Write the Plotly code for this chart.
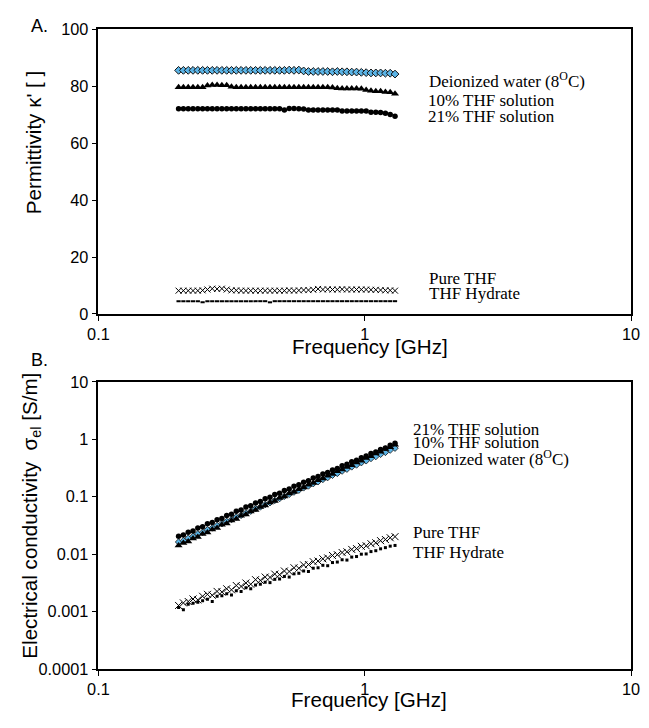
import plotly.graph_objects as go

# ---------------- data ----------------
freq_ghz = [0.2000, 0.2085, 0.2174, 0.2266, 0.2362, 0.2462, 0.2567, 0.2676, 0.2790, 0.2908,
            0.3032, 0.3160, 0.3294, 0.3434, 0.3580, 0.3732, 0.3891, 0.4056, 0.4228, 0.4408,
            0.4595, 0.4790, 0.4993, 0.5205, 0.5426, 0.5657, 0.5897, 0.6147, 0.6408, 0.6680,
            0.6964, 0.7260, 0.7568, 0.7890, 0.8225, 0.8574, 0.8938, 0.9317, 0.9713, 1.0125,
            1.0555, 1.1004, 1.1471, 1.1958, 1.2466, 1.2995]

# Panel A: permittivity
perm_water = [85.6, 85.6, 85.6, 85.6, 85.6, 85.6, 85.6, 85.6, 85.6, 85.6,
              85.6, 85.6, 85.6, 85.6, 85.6, 85.6, 85.6, 85.6, 85.6, 85.6,
              85.6, 85.6, 85.6, 85.7, 85.6, 85.7, 85.4, 85.2, 85.2, 85.2,
              85.2, 85.2, 85.1, 85.2, 85.1, 85.1, 85.0, 85.0, 84.9, 84.8,
              84.7, 84.7, 84.7, 84.6, 84.6, 84.3]
perm_thf10 = [79.7, 79.7, 79.7, 79.7, 79.7, 79.7, 80.3, 80.5, 80.5, 80.4,
              80.4, 79.8, 79.7, 79.7, 79.7, 79.7, 79.7, 79.7, 79.7, 79.7,
              79.7, 79.7, 79.7, 79.7, 79.7, 79.7, 79.7, 79.7, 79.7, 79.7,
              79.7, 79.7, 79.6, 79.3, 79.2, 79.2, 79.2, 79.2, 79.1, 78.7,
              78.4, 78.3, 78.3, 78.0, 77.9, 77.4]
perm_thf21 = [72.1, 72.1, 72.1, 72.1, 72.1, 72.1, 72.1, 72.1, 72.1, 72.1,
              72.1, 72.1, 72.1, 72.1, 72.1, 72.1, 72.1, 72.1, 72.1, 72.1,
              72.1, 72.1, 71.7, 72.2, 72.2, 72.1, 72.0, 71.7, 71.7, 71.7,
              71.7, 71.7, 71.7, 71.7, 71.3, 71.3, 71.3, 71.3, 71.3, 71.3,
              70.9, 70.9, 70.8, 70.5, 70.1, 69.5]
perm_pure = [8.2, 8.2, 8.2, 8.2, 8.2, 8.3, 8.6, 8.9, 8.8, 8.9,
             8.6, 8.3, 8.3, 8.2, 8.2, 8.2, 8.2, 8.2, 8.2, 8.2,
             8.2, 8.2, 8.2, 8.3, 8.2, 8.3, 8.4, 8.4, 8.5, 8.8,
             8.6, 8.7, 8.6, 8.6, 8.7, 8.6, 8.6, 8.6, 8.6, 8.6,
             8.5, 8.5, 8.4, 8.3, 8.3, 8.2]
perm_hydrate = [4.5, 4.5, 4.5, 4.5, 4.5, 4.1, 4.5, 4.5, 4.5, 4.5,
                4.5, 4.5, 4.5, 4.5, 4.5, 4.5, 4.5, 4.5, 4.5, 4.1,
                4.5, 4.5, 4.5, 4.5, 4.5, 4.5, 4.5, 4.5, 4.5, 4.5,
                4.5, 4.5, 4.5, 4.5, 4.5, 4.5, 4.5, 4.5, 4.5, 4.5,
                4.5, 4.5, 4.5, 4.5, 4.5, 4.5]

# Panel B: electrical conductivity [S/m]
cond_water = [0.0163, 0.0172, 0.0190, 0.0204, 0.0226, 0.0241, 0.0266, 0.0286, 0.0315, 0.0339,
              0.0373, 0.0400, 0.0442, 0.0474, 0.0522, 0.0561, 0.0617, 0.0664, 0.0730, 0.0786,
              0.0864, 0.0929, 0.1020, 0.1100, 0.1207, 0.1300, 0.1428, 0.1540, 0.1690, 0.1822,
              0.2000, 0.2155, 0.2365, 0.2550, 0.2798, 0.3017, 0.3310, 0.3570, 0.3915, 0.4222,
              0.4630, 0.4995, 0.5480, 0.5910, 0.6480, 0.7000]
cond_thf10 = [0.0141, 0.0156, 0.0166, 0.0188, 0.0199, 0.0225, 0.0238, 0.0270, 0.0286, 0.0324,
              0.0343, 0.0387, 0.0410, 0.0465, 0.0492, 0.0556, 0.0588, 0.0665, 0.0705, 0.0795,
              0.0845, 0.0950, 0.1010, 0.1135, 0.1210, 0.1355, 0.1450, 0.1620, 0.1735, 0.1935,
              0.2075, 0.2315, 0.2480, 0.2770, 0.2970, 0.3310, 0.3550, 0.3960, 0.4245, 0.4730,
              0.5075, 0.5655, 0.6070, 0.6760, 0.7250, 0.8050]
cond_thf21 = [0.0205, 0.0215, 0.0240, 0.0254, 0.0285, 0.0300, 0.0338, 0.0355, 0.0398, 0.0420,
              0.0472, 0.0497, 0.0558, 0.0590, 0.0660, 0.0698, 0.0780, 0.0826, 0.0922, 0.0975,
              0.1090, 0.1155, 0.1290, 0.1365, 0.1520, 0.1610, 0.1790, 0.1900, 0.2110, 0.2240,
              0.2490, 0.2640, 0.2930, 0.3110, 0.3450, 0.3660, 0.4060, 0.4320, 0.4790, 0.5100,
              0.5650, 0.6010, 0.6650, 0.7080, 0.7850, 0.8550]
cond_pure = [0.00128, 0.00142, 0.00150, 0.00166, 0.00160, 0.00185, 0.00200, 0.00193, 0.00225, 0.00220,
             0.00250, 0.00240, 0.00285, 0.00275, 0.00315, 0.00300, 0.00360, 0.00350, 0.00400, 0.00395,
             0.00450, 0.00440, 0.00510, 0.00500, 0.00580, 0.00570, 0.00650, 0.00660, 0.00740, 0.00760,
             0.00830, 0.00860, 0.00950, 0.00980, 0.01070, 0.01100, 0.01210, 0.01250, 0.01370, 0.01400,
             0.01520, 0.01580, 0.01720, 0.01800, 0.01930, 0.02020]
cond_hydrate = [0.00118, 0.00108, 0.00135, 0.00140, 0.00145, 0.00155, 0.00165, 0.00150, 0.00185, 0.00190,
                0.00205, 0.00195, 0.00230, 0.00225, 0.00260, 0.00250, 0.00290, 0.00300, 0.00325, 0.00320,
                0.00365, 0.00370, 0.00410, 0.00400, 0.00455, 0.00465, 0.00510, 0.00500, 0.00570, 0.00580,
                0.00640, 0.00630, 0.00715, 0.00730, 0.00800, 0.00790, 0.00890, 0.00910, 0.01000, 0.01010,
                0.01110, 0.01150, 0.01240, 0.01300, 0.01380, 0.01420]

x_tickvals = [0.1, 1, 10]
x_ticktext = ["0.1", "1", "10"]
yA_tickvals = [0, 20, 40, 60, 80, 100]
yB_tickvals = [0.0001, 0.001, 0.01, 0.1, 1, 10]
yB_ticktext = ["0.0001", "0.001", "0.01", "0.1", "1", "10"]

labels_A = ["Deionized water (8<sup>O</sup>C)", "10% THF solution", "21% THF solution",
            "Pure THF", "THF Hydrate"]
labels_B = ["21% THF solution", "10% THF solution", "Deionized water (8<sup>O</sup>C)",
            "Pure THF", "THF Hydrate"]

# ---------------- figure ----------------
# page body keeps its default 8px margin, so the figure is 16px smaller than the window
PAGE_W, PAGE_H, OFF = 649, 728, 8
W, H = PAGE_W - 2 * OFF, PAGE_H - 2 * OFF
WATER_BLUE = "#5bb4e6"


def fx(p):
    return (p - OFF) / W


def fy(p):
    return 1 - (p - OFF) / H


fig = go.Figure()

sty_water = dict(symbol="diamond", size=6, color=WATER_BLUE, line=dict(color="#111111", width=1))
sty_tri = dict(symbol="triangle-up", size=7, color="black", line=dict(width=0))
sty_circ = dict(symbol="circle", size=5.5, color="black", line=dict(width=0))
sty_x = dict(symbol="x-thin-open", size=7, color="black", line=dict(color="black", width=1))

# Panel A
fig.add_trace(go.Scatter(x=freq_ghz, y=perm_water, mode="markers", marker=sty_water, xaxis="x", yaxis="y"))
fig.add_trace(go.Scatter(x=freq_ghz, y=perm_thf10, mode="markers", marker=sty_tri, xaxis="x", yaxis="y"))
fig.add_trace(go.Scatter(x=freq_ghz, y=perm_thf21, mode="markers", marker=sty_circ, xaxis="x", yaxis="y"))
fig.add_trace(go.Scatter(x=freq_ghz, y=perm_pure, mode="markers",
                         marker=dict(symbol="x-thin-open", size=6, color="black",
                                     line=dict(color="black", width=1)), xaxis="x", yaxis="y"))
fig.add_trace(go.Scatter(x=freq_ghz, y=perm_hydrate, mode="markers",
                         marker=dict(symbol="line-ew-open", size=3, color="black",
                                     line=dict(color="black", width=2)), xaxis="x", yaxis="y"))

# Panel B
fig.add_trace(go.Scatter(x=freq_ghz, y=cond_water, mode="markers",
                         marker=dict(symbol="diamond", size=5, color=WATER_BLUE,
                                     line=dict(color="#111111", width=0.8)), xaxis="x2", yaxis="y2"))
fig.add_trace(go.Scatter(x=freq_ghz, y=cond_thf10, mode="markers", marker=sty_tri, xaxis="x2", yaxis="y2"))
fig.add_trace(go.Scatter(x=freq_ghz, y=cond_thf21, mode="markers", marker=sty_circ, xaxis="x2", yaxis="y2"))
fig.add_trace(go.Scatter(x=freq_ghz, y=cond_pure, mode="markers", marker=sty_x, xaxis="x2", yaxis="y2"))
fig.add_trace(go.Scatter(x=freq_ghz, y=cond_hydrate, mode="markers",
                         marker=dict(symbol="square", size=3, color="black", line=dict(width=0)),
                         xaxis="x2", yaxis="y2"))

tickfont = dict(family="Liberation Sans", size=16.3, color="black")
common_axis = dict(showline=True, linecolor="black", linewidth=1.6, mirror=True,
                   ticks="outside", ticklen=5, tickwidth=1.4, tickcolor="black",
                   showgrid=False, zeroline=False, tickfont=tickfont,
                   ticklabeloverflow="allow")

x_dom = [fx(90), fx(640)]
fig.update_layout(
    width=W, height=H,
    margin=dict(l=0, r=0, t=0, b=0),
    paper_bgcolor="white", plot_bgcolor="white",
    showlegend=False,
    xaxis=dict(domain=x_dom, type="log", range=[-1, 1], tickvals=x_tickvals,
               ticktext=x_ticktext, anchor="y", **common_axis),
    yaxis=dict(domain=[fy(312.7), fy(20.7)], range=[0, 100], tickvals=yA_tickvals,
               anchor="x", **common_axis),
    xaxis2=dict(domain=x_dom, type="log", range=[-1, 1], tickvals=x_tickvals,
                ticktext=x_ticktext, anchor="y2", **common_axis),
    yaxis2=dict(domain=[fy(677), fy(382.3)], type="log", range=[-4, 1],
                tickvals=yB_tickvals, ticktext=yB_ticktext, anchor="x2", **common_axis),
)

serif = dict(family="Liberation Serif", size=17, color="black")
sans_title = dict(family="Liberation Sans", size=20.6, color="black")

annotations = []
# series labels panel A
for txt, xp, yp in zip(labels_A, [429, 428, 428, 429, 429], [73, 93.5, 110, 276, 292]):
    annotations.append(dict(text=txt, x=fx(xp), y=fy(yp), xref="paper", yref="paper",
                            xanchor="left", yanchor="middle", showarrow=False, font=serif))
# series labels panel B
for txt, xp, yp in zip(labels_B, [413, 413, 413, 413, 413], [431, 445, 460, 537, 557]):
    annotations.append(dict(text=txt, x=fx(xp), y=fy(yp), xref="paper", yref="paper",
                            xanchor="left", yanchor="middle", showarrow=False, font=serif))
# panel letters
annotations.append(dict(text="A.", x=fx(18), y=fy(17), xref="paper", yref="paper",
                        xanchor="left", yanchor="middle", showarrow=False,
                        font=dict(family="Liberation Sans", size=18, color="black")))
annotations.append(dict(text="B.", x=fx(18), y=fy(360), xref="paper", yref="paper",
                        xanchor="left", yanchor="middle", showarrow=False,
                        font=dict(family="Liberation Sans", size=18, color="black")))
# axis titles
annotations.append(dict(text="Frequency [GHz]", x=fx(370), y=fy(346), xref="paper", yref="paper",
                        xanchor="center", yanchor="middle", showarrow=False, font=sans_title))
annotations.append(dict(text="Frequency [GHz]", x=fx(369), y=fy(708), xref="paper", yref="paper",
                        xanchor="center", yanchor="middle", showarrow=False, font=sans_title))
annotations.append(dict(text="Permittivity \u03ba' [ ]", x=fx(23), y=fy(137), xref="paper",
                        yref="paper", xanchor="center", yanchor="middle", showarrow=False,
                        textangle=-90, font=sans_title))
annotations.append(dict(text="Electrical conductivity  \u03c3<sub>el</sub> [S/m]", x=fx(20),
                        y=fy(520), xref="paper", yref="paper", xanchor="center",
                        yanchor="middle", showarrow=False, textangle=-90, font=sans_title))

fig.update_layout(annotations=annotations)

fig.write_html("out.html", config={"displayModeBar": False})
